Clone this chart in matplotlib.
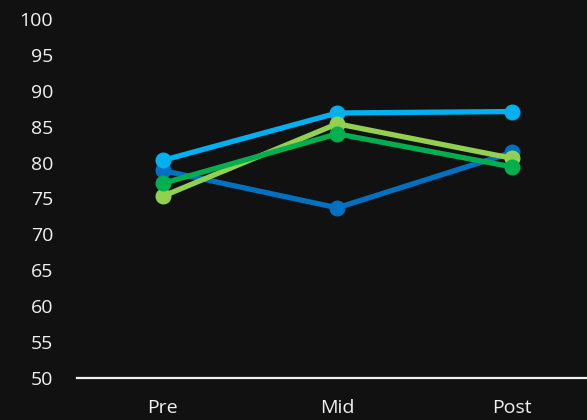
import matplotlib
matplotlib.use("Agg")
import matplotlib.pyplot as plt

# Assessment stages and scores for each group
stages = ["Pre", "Mid", "Post"]
group_dark_blue = [78.9, 73.7, 81.4]
group_light_blue = [80.3, 86.9, 87.1]
group_light_green = [75.3, 85.4, 80.6]
group_green = [77.1, 84.0, 79.4]
y_ticks = [50, 55, 60, 65, 70, 75, 80, 85, 90, 95, 100]

series = [
    (group_dark_blue, "#0070C0"),
    (group_light_blue, "#00B0F0"),
    (group_light_green, "#92D050"),
    (group_green, "#00B050"),
]

bg = "#111111"
fg = "#f2f2f2"

fig = plt.figure(figsize=(5.87, 4.2), dpi=100, facecolor=bg)
ax = fig.add_axes([0.131, 0.1, 0.869, 0.855], facecolor=bg)

x = list(range(len(stages)))
for values, color in series:
    ax.plot(x, values, color=color, linewidth=3.8, marker="o",
            markersize=10.5, solid_capstyle="round", zorder=3)

ax.set_xlim(-0.491, 2.43)
ax.set_ylim(50, 100)
ax.set_xticks(x)
ax.set_xticklabels(stages)
ax.set_yticks(y_ticks)
ax.set_yticklabels([str(t) for t in y_ticks])

for side in ("top", "right", "left"):
    ax.spines[side].set_visible(False)
ax.spines["bottom"].set_color(fg)
ax.spines["bottom"].set_linewidth(1.6)

ax.tick_params(axis="both", length=0, colors=fg, labelsize=14)
ax.tick_params(axis="y", pad=17)
ax.tick_params(axis="x", pad=15)
for lbl in ax.get_xticklabels() + ax.get_yticklabels():
    lbl.set_fontfamily(["Open Sans", "DejaVu Sans"])
    lbl.set_color(fg)

fig.savefig("out.png", dpi=100, facecolor=bg)
